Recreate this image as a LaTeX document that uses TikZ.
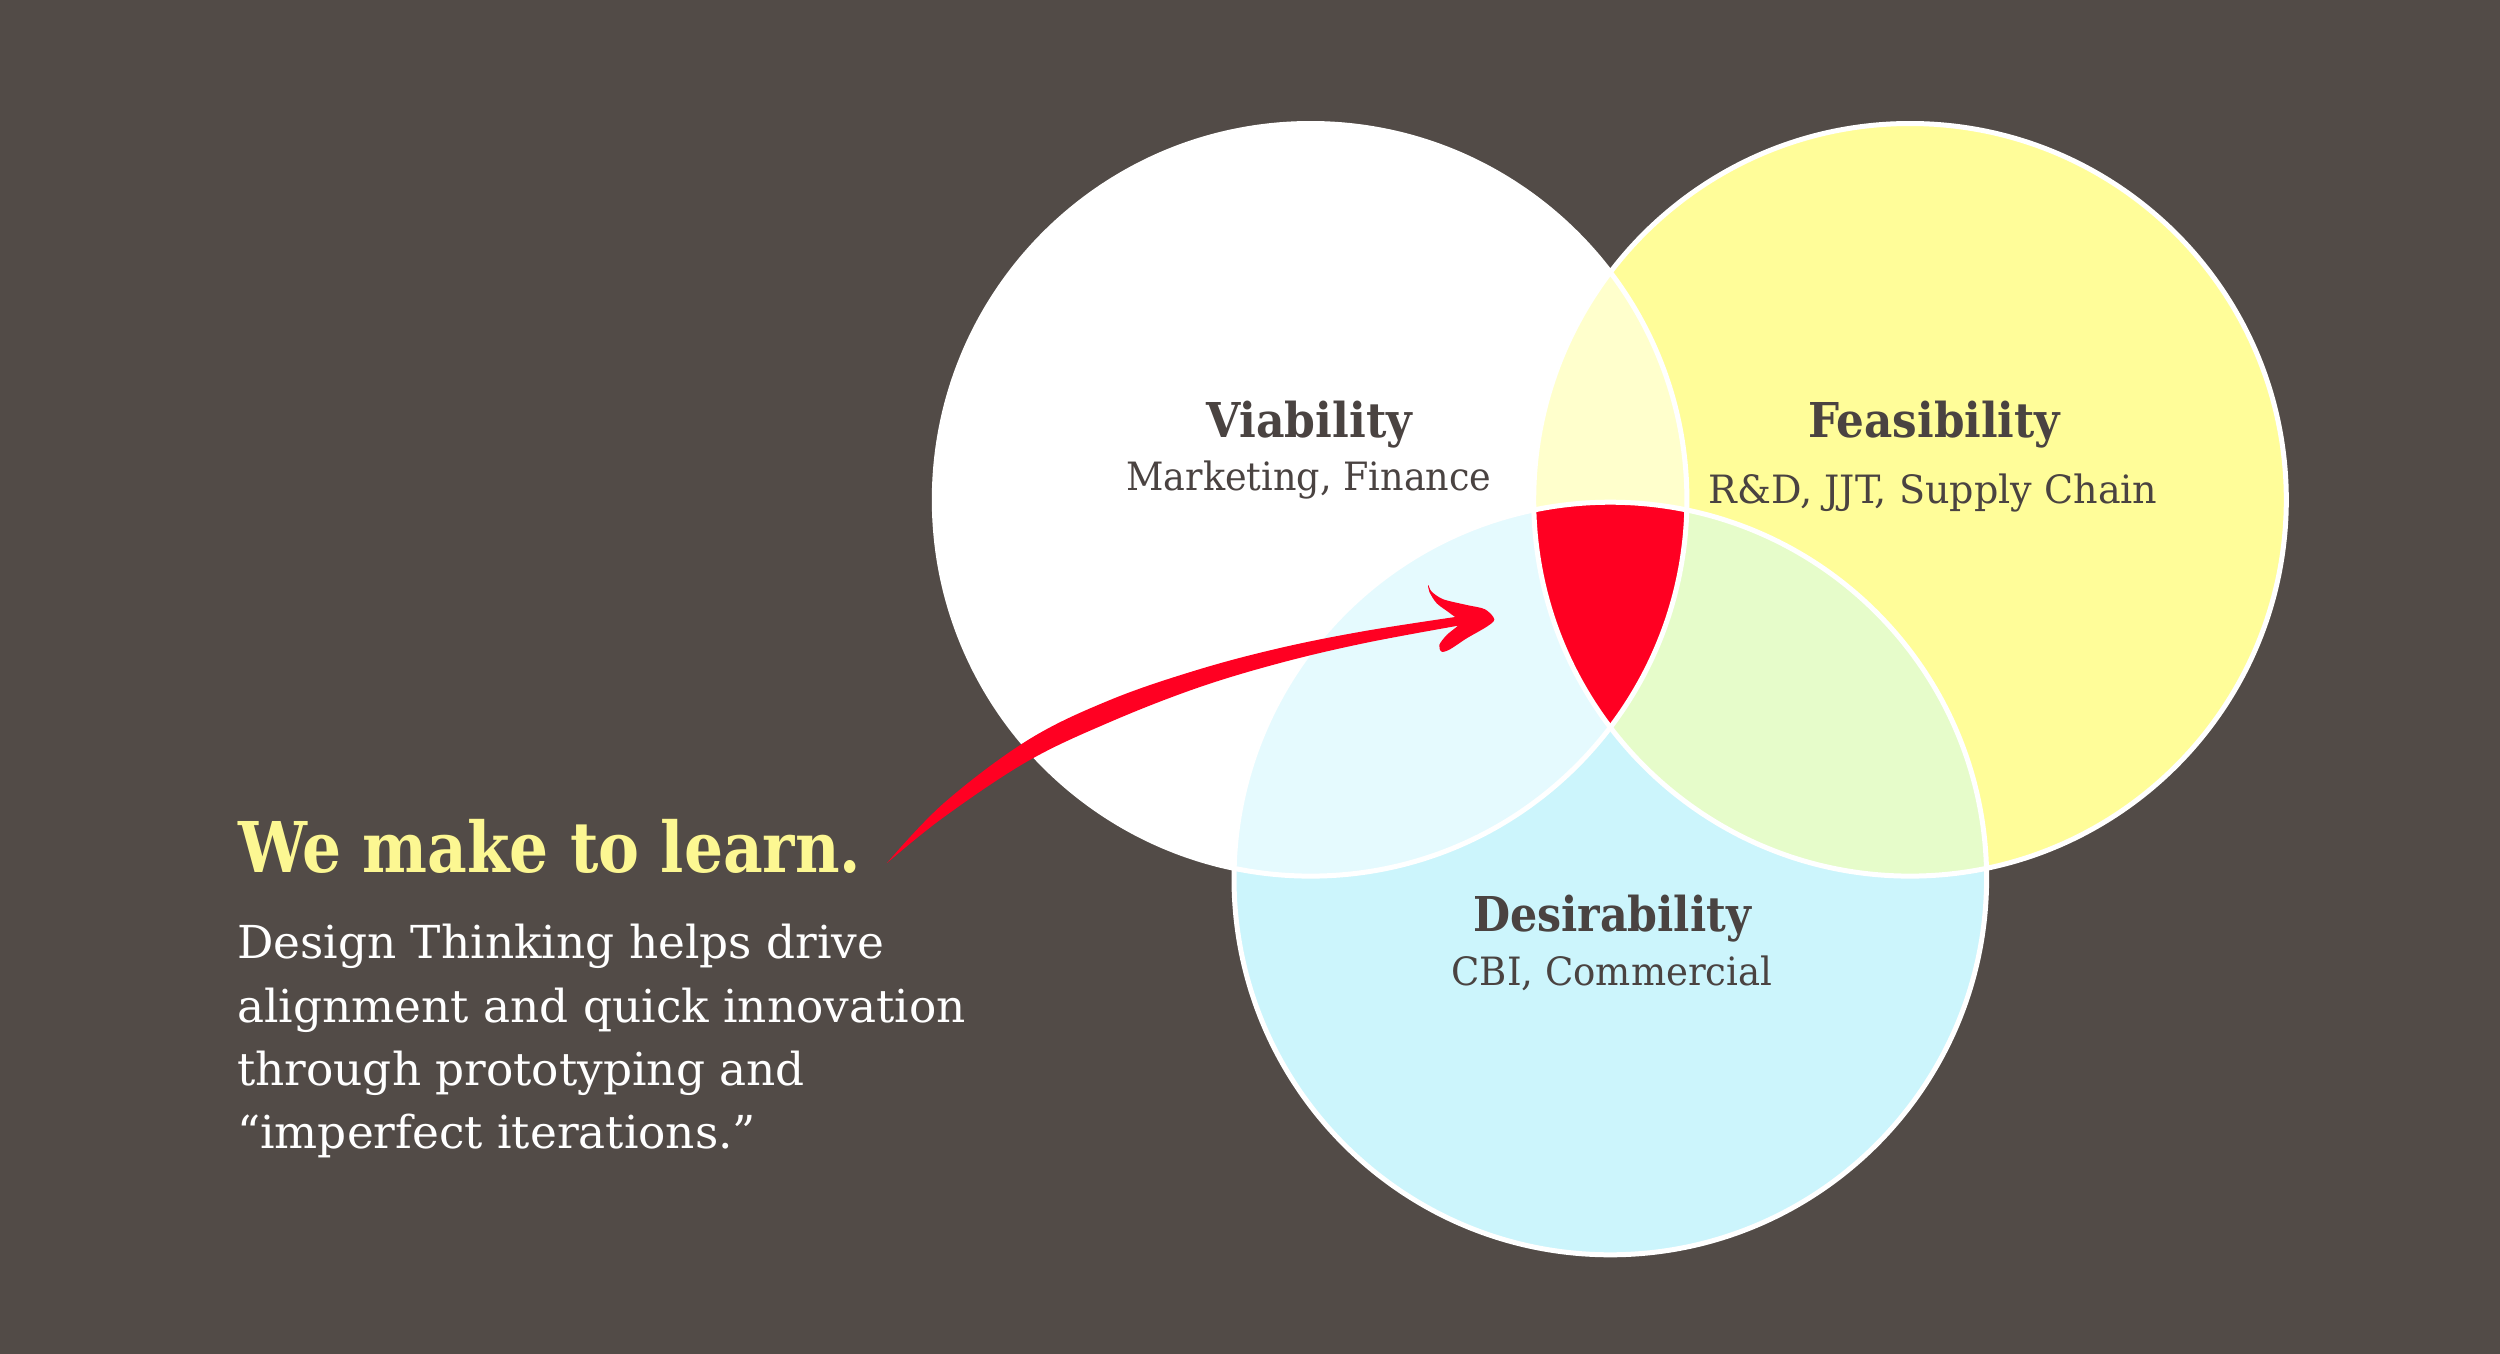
\documentclass[tikz,border=0pt]{standalone}
\usepackage{fontspec}
\usepackage{graphicx}
\setmainfont{DejaVu Serif}
\definecolor{bgc}{HTML}{524B47}
\definecolor{txtdark}{HTML}{4A4341}
\definecolor{headyel}{HTML}{FCF792}
\definecolor{feasyel}{HTML}{FFFD99}
\definecolor{desblue}{HTML}{CCF5FC}
\definecolor{vfcol}{HTML}{FFFFCC}
\definecolor{vdcol}{HTML}{E5FAFE}
\definecolor{fdcol}{HTML}{E6FCCA}
\definecolor{hotred}{HTML}{FF0022}
\tikzset{
  ring/.style={draw=white, line width=5pt},
  titletext/.style={anchor=base, inner sep=0pt, text=txtdark},
  subtext/.style={anchor=base, inner sep=0pt, text=txtdark},
  bodytext/.style={anchor=base west, inner sep=0pt, text=white},
}
\newcommand\ttl[2]{\resizebox{#1pt}{\height}{\fontsize{48}{56}\selectfont\bfseries #2}}
\newcommand\sbt[2]{\resizebox{#1pt}{\height}{\fontsize{39}{46}\selectfont #2}}
\newcommand\bdy[1]{\fontsize{45.4}{54}\selectfont #1}
\begin{document}
\begin{tikzpicture}[x=1pt,y=-1pt]
\fill[bgc] (0,0) rectangle (2500,1354);
\useasboundingbox (0,0) rectangle (2500,1354);
\def\R{376.3}
\coordinate (cV) at (1310.6,499.8);
\coordinate (cF) at (1910,499.8);
\coordinate (cD) at (1610.3,878.5);
% base fills
\fill[white] (cV) circle (\R);
\fill[feasyel] (cF) circle (\R);
\fill[desblue] (cD) circle (\R);
% pairwise overlaps
\begin{scope}
  \clip (cV) circle (\R);
  \fill[vfcol] (cF) circle (\R);
  \fill[vdcol] (cD) circle (\R);
\end{scope}
\begin{scope}
  \clip (cF) circle (\R);
  \fill[fdcol] (cD) circle (\R);
\end{scope}
\begin{scope}
  \clip (cV) circle (\R);
  \clip (cF) circle (\R);
  \fill[hotred] (cD) circle (\R);
\end{scope}
% outlines
\draw[ring] (cV) circle (\R);
\draw[ring] (cF) circle (\R);
\draw[ring] (cD) circle (\R);
% circle labels
\node[titletext] (tV) at (1309,437) {\ttl{206}{Viability}};
\node[subtext] (sV) at (1309,490) {\sbt{365}{Marketing, Finance}};
\node[titletext] (tF) at (1934,437) {\ttl{252}{Feasibility}};
\node[subtext] (sF) at (1933,503) {\sbt{449}{R\&D, JJT, Supply Chain}};
\node[titletext] (tD) at (1612,931) {\ttl{278}{Desirability}};
\node[subtext] (sD) at (1612,985) {\sbt{321}{CBI, Commercial}};
% left text
\node[anchor=base west, inner sep=0pt, text=headyel] (head) at (238,872)
  {\resizebox{623pt}{\height}{\fontsize{70}{80}\selectfont\bfseries We make to learn.}};
\node[bodytext] (b1) at (237,958) {\bdy{Design Thinking helps drive}};
\node[bodytext] (b2) at (237,1022) {\bdy{alignment and quick innovation}};
\node[bodytext] (b3) at (237,1085) {\bdy{through prototyping and}};
\node[bodytext] (b4) at (237,1148) {\bdy{``imperfect iterations.''}};
% arrow
\coordinate (arrStart) at (887,863);
\coordinate (arrTip) at (1494.3,619.3);
\fill[hotred] plot[smooth, tension=0.6] coordinates
  {(arrStart) (944,803) (1028,740) (1110,700) (1197,670) (1280,648) (1365,631) (1462,616)}
  -- plot[smooth, tension=0.6] coordinates
  {(1462,625) (1365,643) (1280,663) (1197,688) (1110,722) (1028,761) (944,817) (arrStart)}
  -- cycle;
\fill[hotred] plot[smooth cycle, tension=0.5] coordinates
  {(1428.3,585) (1431.7,591.7) (1443.3,599.3) (1466.7,605) (1485,609.3) (arrTip)
   (1486.7,626.7) (1466.7,638.3) (1450,649.3) (1441.7,651.7) (1439.3,645)
   (1446.7,635) (1460,622.7) (1450,613.3) (1436.7,603.3) (1429.3,591.7)};
\end{tikzpicture}
\end{document}
